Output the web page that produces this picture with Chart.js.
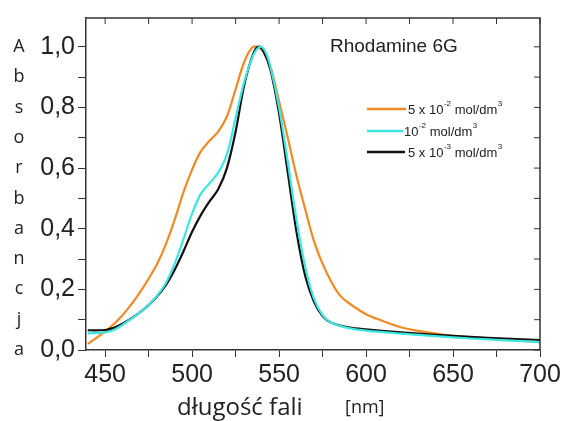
<!DOCTYPE html>
<html>
<head>
<meta charset="utf-8">
<script src="https://cdn.jsdelivr.net/npm/chart.js@4.4.1/dist/chart.umd.min.js"></script>
<style>
  html, body { margin: 0; padding: 0; background: #fff; }
  #wrap { width: 564px; height: 421px; }
</style>
</head>
<body>
<div id="wrap"><canvas id="absChart" width="564" height="421"></canvas></div>
<script>
// wavelength [nm] / absorbance
const orangeNm = [440, 445, 452, 460, 465, 470, 475, 480, 485, 490, 495, 500, 505, 510, 515, 520, 525, 530, 535, 540, 545, 550, 555, 560, 565, 570, 575, 580, 585, 590, 600, 610, 620, 630, 640, 650, 660, 670, 680, 690, 700];
const orangeAbs = [0.02, 0.04, 0.07, 0.115, 0.15, 0.19, 0.235, 0.285, 0.35, 0.43, 0.52, 0.595, 0.655, 0.69, 0.72, 0.77, 0.86, 0.95, 1.0, 0.99, 0.935, 0.82, 0.70, 0.575, 0.465, 0.36, 0.285, 0.225, 0.18, 0.155, 0.118, 0.095, 0.075, 0.063, 0.054, 0.047, 0.042, 0.038, 0.034, 0.030, 0.026];

const cyanNm = [440, 450, 455, 460, 465, 470, 475, 480, 485, 490, 495, 500, 505, 510, 515, 520, 525, 530, 535, 539, 542, 545, 550, 555, 560, 565, 570, 575, 580, 590, 600, 620, 640, 660, 680, 700];
const cyanAbs = [0.055, 0.058, 0.066, 0.083, 0.103, 0.124, 0.148, 0.18, 0.222, 0.285, 0.365, 0.45, 0.515, 0.55, 0.585, 0.645, 0.765, 0.885, 0.97, 1.0, 0.985, 0.935, 0.80, 0.62, 0.43, 0.275, 0.17, 0.115, 0.09, 0.072, 0.064, 0.054, 0.046, 0.038, 0.032, 0.026];

const blackNm = [440, 450, 455, 460, 465, 470, 475, 480, 485, 490, 495, 500, 505, 510, 515, 520, 525, 530, 535, 538, 541, 545, 550, 555, 560, 565, 570, 575, 580, 590, 600, 620, 640, 660, 680, 700];
const blackAbs = [0.065, 0.066, 0.073, 0.087, 0.104, 0.124, 0.148, 0.178, 0.215, 0.265, 0.325, 0.39, 0.445, 0.49, 0.53, 0.60, 0.72, 0.875, 0.975, 1.0, 0.985, 0.925, 0.78, 0.585, 0.39, 0.245, 0.16, 0.112, 0.09, 0.075, 0.068, 0.058, 0.05, 0.043, 0.038, 0.033];

// legend labels: [text, superscript] pieces
const labelOrange = [['5 x 10', ''], ['', '-2'], [' mol/dm', ''], ['', '3']];
const labelCyan = [['10', ''], ['', '-2'], [' mol/dm', ''], ['', '3']];
const labelBlack = [['5 x 10', ''], ['', '-3'], [' mol/dm', ''], ['', '3']];

const yTitle = 'Absorbancja';
const chartTitle = 'Rhodamine 6G';

function pts(xs, ys) {
    return xs.map(function(x, i) { return { x: x, y: ys[i] }; });
}

const axisColor = '#333';

// frame, inward ticks, legend, titles
const decorPlugin = {
    id: 'decor',
    afterDraw: function(chart) {
        const ctx = chart.ctx;
        const a = chart.chartArea;
        const xs = chart.scales.x;
        const ys = chart.scales.y;
        ctx.save();
        ctx.strokeStyle = axisColor;
        ctx.lineWidth = 1.5;
        ctx.beginPath();
        ctx.moveTo(a.left, a.top);
        ctx.lineTo(a.right, a.top);
        ctx.lineTo(a.right, a.bottom);
        ctx.stroke();
        ctx.lineWidth = 1;
        xs.ticks.forEach(function(t) {
            const px = xs.getPixelForValue(t.value);
            ctx.beginPath();
            ctx.moveTo(px, a.top);
            ctx.lineTo(px, a.top + 6);
            ctx.stroke();
        });
        ys.ticks.forEach(function(t) {
            const py = ys.getPixelForValue(t.value);
            ctx.beginPath();
            ctx.moveTo(a.right, py);
            ctx.lineTo(a.right - 6, py);
            ctx.stroke();
        });

        // vertical y title, one letter per 0.1 step
        ctx.fillStyle = '#222';
        ctx.font = '18px "Open Sans", sans-serif';
        ctx.textAlign = 'center';
        ctx.textBaseline = 'middle';
        for (let i = 0; i < yTitle.length; i++) {
            ctx.fillText(yTitle[i], 19, ys.getPixelForValue(1.0 - i * 0.1));
        }

        // x title
        ctx.textAlign = 'left';
        ctx.font = '24px "Open Sans", sans-serif';
        ctx.fillText('długość fali', 177, 408);
        ctx.font = '18px "Open Sans", sans-serif';
        ctx.fillText('[nm]', 345, 408);

        // chart title
        ctx.font = '19px "Liberation Sans", Arial, sans-serif';
        ctx.fillText(chartTitle, 330, 47);

        // legend
        const rows = [
            { color: '#f08a24', parts: labelOrange, y: 109, x0: 367, x1: 406, tx: 408 },
            { color: '#3ee6e0', parts: labelCyan, y: 131, x0: 367, x1: 403, tx: 404 },
            { color: '#111111', parts: labelBlack, y: 152, x0: 367, x1: 405, tx: 408 }
        ];
        rows.forEach(function(r) {
            ctx.strokeStyle = r.color;
            ctx.lineWidth = 2.5;
            ctx.beginPath();
            ctx.moveTo(r.x0, r.y);
            ctx.lineTo(r.x1, r.y);
            ctx.stroke();
            let x = r.tx;
            r.parts.forEach(function(p) {
                if (p[0]) {
                    ctx.font = '13px "Liberation Sans", Arial, sans-serif';
                    ctx.fillText(p[0], x, r.y + 1);
                    x += ctx.measureText(p[0]).width;
                }
                if (p[1]) {
                    ctx.font = '8px "Liberation Sans", Arial, sans-serif';
                    ctx.fillText(p[1], x + 0.5, r.y - 5);
                    x += ctx.measureText(p[1]).width + 0.5;
                }
            });
        });
        ctx.restore();
    }
};

const ctx = document.getElementById('absChart').getContext('2d');
new Chart(ctx, {
    type: 'line',
    data: {
        datasets: [
            {
                label: '10-2 mol/dm3',
                data: pts(cyanNm, cyanAbs),
                borderColor: '#3ee6e0',
                borderWidth: 2.2
            },
            {
                label: '5 x 10-3 mol/dm3',
                data: pts(blackNm, blackAbs),
                borderColor: '#111111',
                borderWidth: 2.2
            },
            {
                label: '5 x 10-2 mol/dm3',
                data: pts(orangeNm, orangeAbs),
                borderColor: '#f08a24',
                borderWidth: 2.2
            }
        ]
    },
    options: {
        responsive: false,
        animation: false,
        layout: { padding: { top: 15, right: 24, left: 0, bottom: 0 } },
        elements: {
            point: { radius: 0 },
            line: { tension: 0.35, fill: false }
        },
        plugins: {
            legend: { display: false },
            tooltip: { enabled: false }
        },
        scales: {
            x: {
                type: 'linear',
                min: 439,
                max: 700,
                afterFit: function(scale) { scale.height = 71; },
                border: { display: true, color: axisColor, width: 1.5 },
                grid: { drawOnChartArea: false, tickLength: 7, color: axisColor },
                ticks: {
                    stepSize: 25,
                    includeBounds: false,
                    autoSkip: false,
                    maxRotation: 0,
                    color: '#222',
                    padding: 3,
                    font: { family: '"Liberation Sans", Arial, sans-serif', size: 25 },
                    callback: function(v) { return v % 50 === 0 ? String(v) : ''; }
                }
            },
            y: {
                min: 0,
                max: 1.095,
                afterFit: function(scale) { scale.width = 86; },
                border: { display: true, color: axisColor, width: 1.5 },
                grid: { drawOnChartArea: false, tickLength: 8, color: axisColor },
                ticks: {
                    stepSize: 0.1,
                    includeBounds: false,
                    autoSkip: false,
                    color: '#222',
                    padding: 3,
                    font: { family: '"Liberation Sans", Arial, sans-serif', size: 25 },
                    callback: function(v) {
                        const k = Math.round(v * 10);
                        return k % 2 === 0 ? (k / 10).toFixed(1).replace('.', ',') : '';
                    }
                }
            }
        }
    },
    plugins: [decorPlugin]
});
</script>
</body>
</html>
